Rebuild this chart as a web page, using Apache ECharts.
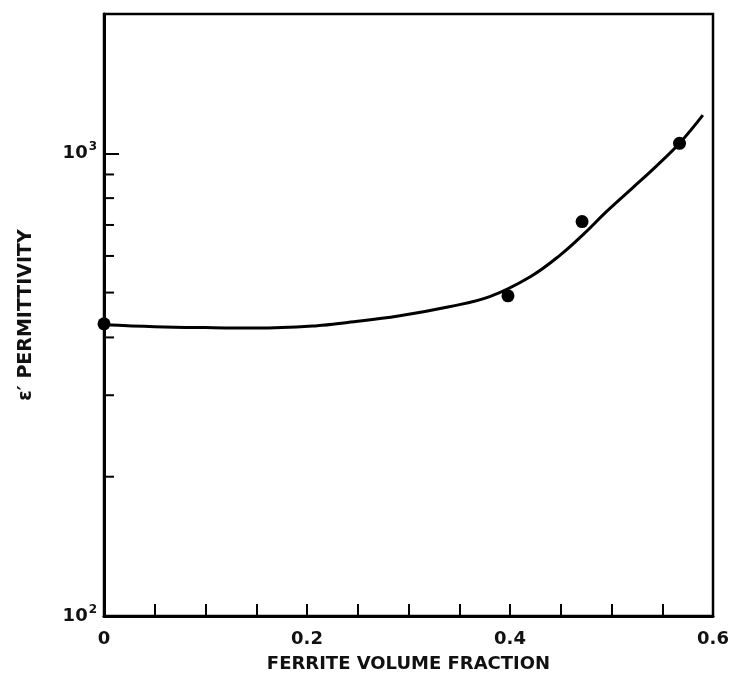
<!DOCTYPE html>
<html>
<head>
<meta charset="utf-8">
<script src="https://cdn.jsdelivr.net/npm/echarts@6/dist/echarts.min.js"></script>
<style>html,body{margin:0;padding:0;background:#fff;}#c{width:736px;height:679px;}</style>
</head>
<body>
<div id="c"></div>
<script>
// Fitted curve (ferrite volume fraction vs permittivity)
const curveX = [0, 0.05, 0.10, 0.15, 0.21, 0.24, 0.29, 0.34, 0.38, 0.42, 0.45, 0.472, 0.495, 0.52, 0.545, 0.567, 0.59];
const curveY = [426, 422, 420, 419, 424, 431, 445, 466, 490, 541, 604, 667, 748, 839, 942, 1051, 1209];
// Measured points
const dotX = [0, 0.398, 0.471, 0.567];
const dotY = [428, 492, 712, 1051];
// Axis settings
const xTickLabels = ['0', '0.2', '0.4', '0.6'];
const yMinorTicks = [200, 300, 400, 500, 600, 700, 800, 900];
const xName = 'FERRITE VOLUME FRACTION';
const yName = 'ε′ PERMITTIVITY';

const chart = echarts.init(document.getElementById('c'), null, {renderer: 'canvas'});
const FONT = 'DejaVu Sans';
const curve = curveX.map((x, i) => [x, curveY[i]]);
const dots = dotX.map((x, i) => [x, dotY[i]]);
const minor = yMinorTicks.map(v => [0, v]);

chart.setOption({
  backgroundColor: '#fff',
  animation: false,
  grid: {left: 104, right: 23, top: 14, bottom: 63, show: true, borderColor: '#000', borderWidth: 2.5, backgroundColor: 'transparent'},
  xAxis: {
    type: 'value', min: 0, max: 0.6, interval: 0.05,
    name: xName, nameLocation: 'middle', nameGap: 39,
    nameTextStyle: {fontFamily: FONT, fontWeight: 'bold', fontSize: 18, color: '#111'},
    axisLine: {show: true, lineStyle: {color: '#000', width: 3}},
    axisTick: {show: true, inside: true, length: 12, lineStyle: {color: '#000', width: 2}},
    splitLine: {show: false},
    axisLabel: {
      margin: 14, fontFamily: FONT, fontSize: 18, fontWeight: 'bold', color: '#111',
      formatter: function (v) {
        const k = Math.round(v / 0.2);
        if (Math.abs(v - k * 0.2) < 1e-6) return xTickLabels[k];
        return '';
      }
    }
  },
  yAxis: {
    type: 'log', logBase: 10, min: 100, max: 2000,
    name: yName, nameLocation: 'middle', nameGap: 68,
    nameTextStyle: {fontFamily: FONT, fontWeight: 'bold', fontSize: 19, color: '#111'},
    axisLine: {show: true, lineStyle: {color: '#000', width: 3}},
    axisTick: {show: true, inside: true, length: 15, lineStyle: {color: '#000', width: 2}},
    splitLine: {show: false},
    minorTick: {show: false},
    axisLabel: {
      margin: 7, fontFamily: FONT, fontSize: 18, fontWeight: 'bold', color: '#111',
      showMaxLabel: false,
      formatter: function (v) {
        const e = Math.round(Math.log10(v));
        if (Math.abs(v - Math.pow(10, e)) > 1e-6) return '';
        return '10{sup|' + e + '}';
      },
      rich: {sup: {fontSize: 12, fontFamily: FONT, fontWeight: 'bold', color: '#111', verticalAlign: 'bottom', padding: [0, 0, 12, 1]}}
    }
  },
  series: [
    {
      type: 'custom', silent: true, data: minor,
      renderItem: function (params, api) {
        const p = api.coord([api.value(0), api.value(1)]);
        return {type: 'line', shape: {x1: p[0], y1: p[1], x2: p[0] + 10, y2: p[1]}, style: {stroke: '#000', lineWidth: 2}};
      },
      clip: false, z: 5
    },
    {
      type: 'line', data: curve, smooth: 0.4, showSymbol: false,
      lineStyle: {color: '#000', width: 3}, z: 3
    },
    {
      type: 'scatter', data: dots, symbol: 'circle', symbolSize: 13,
      itemStyle: {color: '#000', opacity: 1}, z: 4
    }
  ]
});
</script>
</body>
</html>
